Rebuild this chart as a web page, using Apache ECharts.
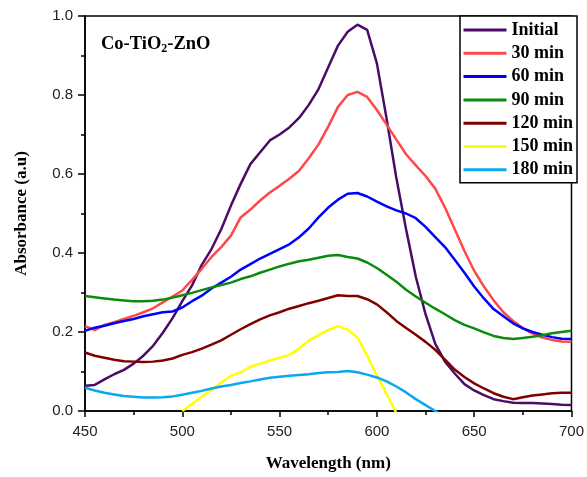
<!DOCTYPE html>
<html>
<head>
<meta charset="UTF-8">
<title>Co-TiO2-ZnO absorbance</title>
<script src="https://cdn.jsdelivr.net/npm/echarts@6/dist/echarts.min.js"></script>
<style>
  html, body { margin: 0; padding: 0; background: #fff; }
  #chart { width: 587px; height: 477px; }
</style>
</head>
<body>
<div id="chart"></div>
<script>
// wavelength grid (nm), 5 nm steps
const wavelengths = [];
for (let w = 450; w <= 700; w += 5) wavelengths.push(w);

const seriesNames = ['Initial', '30 min', '60 min', '90 min', '120 min', '150 min', '180 min'];
const seriesColors = ['#4b0c68', '#ff4848', '#0000ff', '#0a8c0a', '#800000', '#ffff00', '#0aa8f0'];

// absorbance, one value per wavelength (null = not drawn)
const initial = [0.064, 0.066, 0.080, 0.093, 0.104, 0.120, 0.140, 0.165, 0.198, 0.235,
  0.278, 0.318, 0.370, 0.410, 0.460, 0.520, 0.575, 0.625, 0.655, 0.685,
  0.700, 0.718, 0.742, 0.775, 0.815, 0.870, 0.925, 0.960, 0.978, 0.965,
  0.880, 0.740, 0.590, 0.460, 0.340, 0.245, 0.170, 0.125, 0.095, 0.068,
  0.052, 0.040, 0.030, 0.025, 0.021, 0.020, 0.020, 0.019, 0.018, 0.016, 0.015];
const min30 = [0.215, 0.205, 0.218, 0.225, 0.233, 0.241, 0.250, 0.260, 0.275, 0.290,
  0.305, 0.332, 0.360, 0.390, 0.415, 0.444, 0.490, 0.510, 0.533, 0.553,
  0.570, 0.588, 0.608, 0.640, 0.675, 0.720, 0.770, 0.800, 0.808, 0.795,
  0.762, 0.725, 0.687, 0.650, 0.622, 0.595, 0.563, 0.515, 0.460, 0.405,
  0.355, 0.315, 0.280, 0.250, 0.228, 0.210, 0.196, 0.186, 0.180, 0.176, 0.175];
const min60 = [0.203, 0.211, 0.216, 0.222, 0.228, 0.233, 0.240, 0.245, 0.250, 0.252,
  0.262, 0.278, 0.292, 0.310, 0.325, 0.340, 0.358, 0.372, 0.386, 0.398,
  0.410, 0.422, 0.440, 0.462, 0.490, 0.515, 0.535, 0.550, 0.552, 0.543,
  0.530, 0.518, 0.508, 0.500, 0.488, 0.466, 0.440, 0.415, 0.383, 0.350,
  0.315, 0.285, 0.258, 0.240, 0.222, 0.209, 0.200, 0.193, 0.187, 0.183, 0.182];
const min90 = [0.291, 0.288, 0.285, 0.282, 0.280, 0.278, 0.278, 0.279, 0.282, 0.287,
  0.293, 0.299, 0.306, 0.313, 0.319, 0.325, 0.334, 0.341, 0.350, 0.358,
  0.366, 0.373, 0.379, 0.383, 0.388, 0.393, 0.395, 0.390, 0.386, 0.376,
  0.362, 0.345, 0.327, 0.307, 0.290, 0.274, 0.259, 0.245, 0.230, 0.218,
  0.209, 0.199, 0.190, 0.185, 0.182, 0.185, 0.188, 0.192, 0.197, 0.200, 0.203];
const min120 = [0.148, 0.140, 0.135, 0.130, 0.126, 0.125, 0.124, 0.125, 0.128, 0.133,
  0.142, 0.149, 0.158, 0.168, 0.179, 0.193, 0.207, 0.220, 0.232, 0.242,
  0.250, 0.259, 0.266, 0.273, 0.279, 0.286, 0.293, 0.291, 0.291, 0.283,
  0.270, 0.250, 0.228, 0.210, 0.193, 0.175, 0.155, 0.130, 0.105, 0.086,
  0.070, 0.057, 0.045, 0.036, 0.030, 0.035, 0.039, 0.042, 0.045, 0.046, 0.046];
const min150 = [null, null, null, null, null, null, null, null, null, null,
  0.000, 0.018, 0.036, 0.053, 0.072, 0.089, 0.098, 0.112, 0.120, 0.128,
  0.135, 0.142, 0.158, 0.178, 0.192, 0.205, 0.215, 0.206, 0.186, 0.140,
  0.090, 0.043, -0.005, null, null, null, null, null, null, null,
  null, null, null, null, null, null, null, null, null, null, null];
const min180 = [0.059, 0.052, 0.046, 0.042, 0.038, 0.036, 0.034, 0.034, 0.035, 0.037,
  0.041, 0.046, 0.051, 0.057, 0.062, 0.066, 0.071, 0.075, 0.080, 0.084,
  0.087, 0.089, 0.091, 0.093, 0.096, 0.098, 0.099, 0.101, 0.098, 0.092,
  0.085, 0.075, 0.062, 0.047, 0.030, 0.015, 0.000, -0.015, null, null,
  null, null, null, null, null, null, null, null, null, null, null];

const allValues = [initial, min30, min60, min90, min120, min150, min180];

const serif = 'Liberation Serif, Times New Roman, serif';
const sans = 'Liberation Sans, Arial, sans-serif';

const chart = echarts.init(document.getElementById('chart'));

const option = {
  backgroundColor: '#fff',
  animation: false,
  title: {
    left: 101,
    top: 33,
    padding: 0,
    text: '{a|Co-TiO}{b|2}{a|-ZnO}',
    textStyle: {
      rich: {
        a: { fontFamily: serif, fontWeight: 'bold', fontSize: 18.5, color: '#000', lineHeight: 22 },
        b: { fontFamily: serif, fontWeight: 'bold', fontSize: 12, color: '#000', lineHeight: 12, padding: [10, 0, 0, 0] }
      }
    }
  },
  legend: {
    orient: 'vertical',
    left: 460,
    top: 16,
    padding: [5, 4, 4, 2],
    itemWidth: 43,
    itemHeight: 14,
    itemGap: 5.3,
    borderColor: '#000',
    borderWidth: 1.5,
    backgroundColor: '#fff',
    itemStyle: { opacity: 0 },
    lineStyle: { width: 3 },
    textStyle: { fontFamily: serif, fontWeight: 'bold', fontSize: 18, color: '#000' },
    data: seriesNames
  },
  grid: {
    left: 85, right: 12, top: 16, bottom: 66,
    show: true, borderColor: '#000', borderWidth: 1.5
  },
  xAxis: {
    type: 'value',
    min: 450, max: 700, interval: 50,
    name: 'Wavelength (nm)',
    nameLocation: 'middle',
    nameGap: 44,
    nameTextStyle: { fontFamily: serif, fontWeight: 'bold', fontSize: 17, color: '#000' },
    axisLine: { lineStyle: { color: '#000', width: 1.5 } },
    axisTick: { inside: false, length: 6, lineStyle: { color: '#000', width: 1.5 } },
    minorTick: { show: true, splitNumber: 2, length: 4, lineStyle: { color: '#000', width: 1.5 } },
    splitLine: { show: false },
    axisLabel: { fontFamily: sans, fontSize: 15, color: '#222', margin: 13 }
  },
  yAxis: {
    type: 'value',
    min: 0, max: 1, interval: 0.2,
    name: 'Absorbance (a.u)',
    nameLocation: 'middle',
    nameGap: 55,
    nameTextStyle: { fontFamily: serif, fontWeight: 'bold', fontSize: 17, color: '#000' },
    axisLine: { show: true, lineStyle: { color: '#000', width: 1.5 } },
    axisTick: { show: true, inside: false, length: 7, lineStyle: { color: '#000', width: 1.5 } },
    minorTick: { show: true, splitNumber: 2, length: 4, lineStyle: { color: '#000', width: 1.5 } },
    splitLine: { show: false },
    axisLabel: {
      fontFamily: sans, fontSize: 15, color: '#222', margin: 12,
      formatter: v => v.toFixed(1)
    }
  },
  series: seriesNames.map((name, i) => ({
    name: name,
    type: 'line',
    symbol: 'none',
    clip: true,
    color: seriesColors[i],
    lineStyle: { width: 2.5, color: seriesColors[i] },
    data: wavelengths.map((w, j) => [w, allValues[i][j]])
  }))
};

chart.setOption(option);
</script>
</body>
</html>
